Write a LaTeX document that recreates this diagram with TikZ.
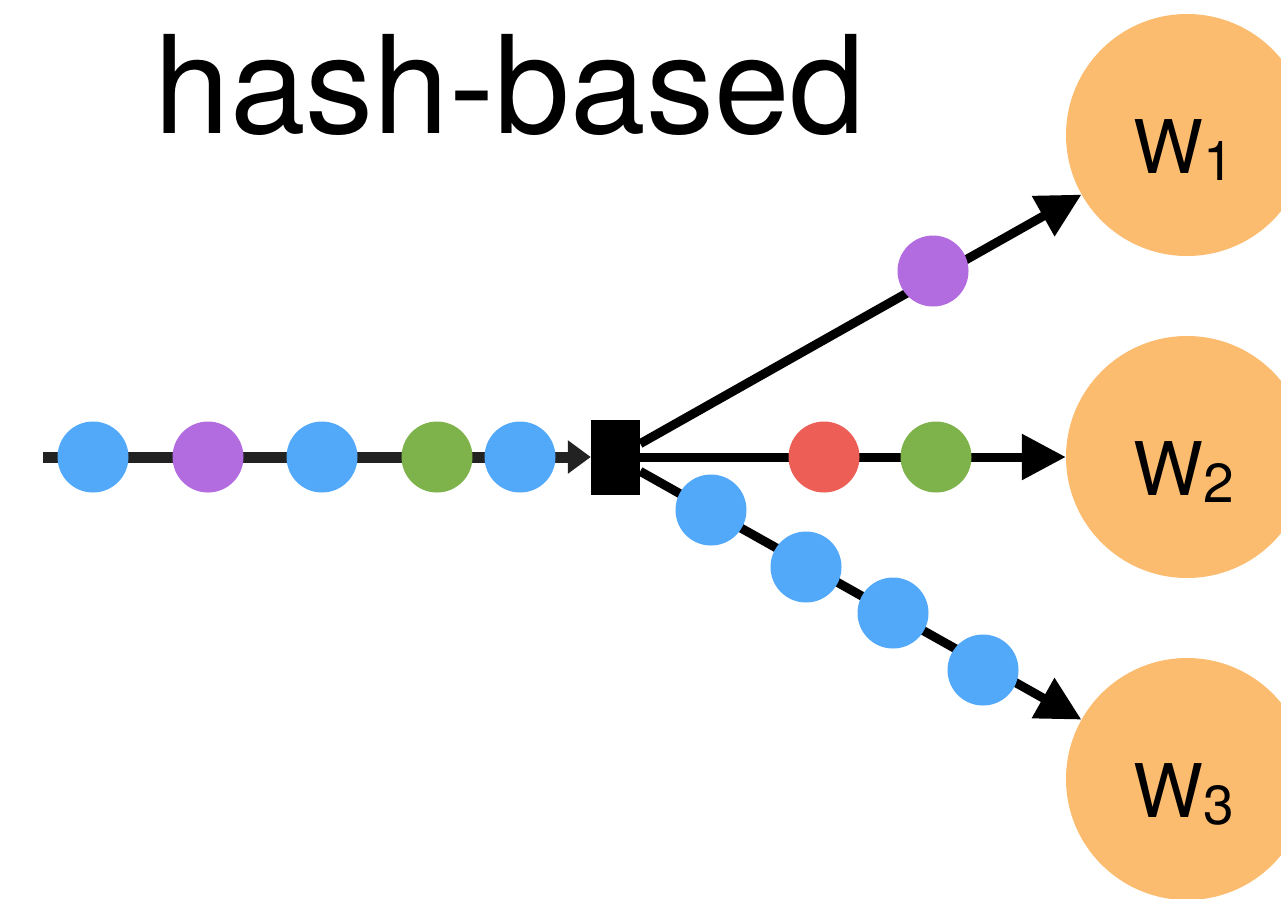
\documentclass[tikz,border=0pt]{standalone}
\usepackage{fontspec}
\setmainfont{TeX Gyre Heros}
\usetikzlibrary{arrows.meta}
\definecolor{dotblue}{HTML}{52A9FA}
\definecolor{dotpurple}{HTML}{B36CE0}
\definecolor{dotgreen}{HTML}{7EB24A}
\definecolor{dotred}{HTML}{EC5E56}
\definecolor{workerfill}{HTML}{FBBC6F}
\definecolor{inline}{HTML}{222222}
\tikzset{
  dot/.style={circle, inner sep=0pt, minimum size=71pt},
  worker/.style={circle, fill=workerfill, inner sep=0pt, minimum size=242pt},
  wlabel/.style={anchor=base west, inner sep=0pt, font=\fontsize{74}{74}\selectfont},
  outflow/.style={line width=9pt, draw=black, -{Triangle[length=44pt,width=44pt]}},
  inflow/.style={line width=11pt, draw=inline, -{Triangle[length=23pt,width=32pt]}},
}
\newcommand{\wsub}[1]{\raisebox{-7pt}{\fontsize{55}{55}\selectfont #1}}
\begin{document}
\begin{tikzpicture}[x=1pt, y=-1pt]
  \useasboundingbox (0,0) rectangle (1281,898);
  \clip (0,0) rectangle (1281,898);

  % title
  \node[anchor=base, inner sep=0pt, font=\fontsize{136}{140}\selectfont] (title) at (510,133) {hash-based};

  % workers
  \node[worker] (w1) at (1187,135) {};
  \node[worker] (w2) at (1187,457) {};
  \node[worker] (w3) at (1187,779) {};
  \node[wlabel] (w1lab) at (1133,173) {W\wsub{1}};
  \node[wlabel] (w2lab) at (1133,495) {W\wsub{2}};
  \node[wlabel] (w3lab) at (1133,817) {W\wsub{3}};

  % partitioner
  \node[rectangle, fill=black, inner sep=0pt, minimum width=49pt, minimum height=75pt] (sq) at (615.5,457.5) {};

  % input stream
  \coordinate (src) at (43,457);
  \draw[inflow] (src) -- (sq.west |- src);

  % output streams
  \draw[outflow] (sq) -- (w1);
  \draw[outflow] (sq.east |- w2) -- (w2);
  \draw[outflow] (sq) -- (w3);

  % tuples on the input stream
  \node[dot, fill=dotblue]   (i1) at (93,457)  {};
  \node[dot, fill=dotpurple] (i2) at (208,457) {};
  \node[dot, fill=dotblue]   (i3) at (322,457) {};
  \node[dot, fill=dotgreen]  (i4) at (437,457) {};
  \node[dot, fill=dotblue]   (i5) at (520,457) {};

  % tuples routed to each worker
  \node[dot, fill=dotpurple] (a1) at (933,271) {};
  \node[dot, fill=dotred]    (b1) at (824,457) {};
  \node[dot, fill=dotgreen]  (b2) at (936,457) {};
  \node[dot, fill=dotblue]   (c1) at (711,510) {};
  \node[dot, fill=dotblue]   (c2) at (806,567) {};
  \node[dot, fill=dotblue]   (c3) at (893,613) {};
  \node[dot, fill=dotblue]   (c4) at (983,670) {};
\end{tikzpicture}
\end{document}
